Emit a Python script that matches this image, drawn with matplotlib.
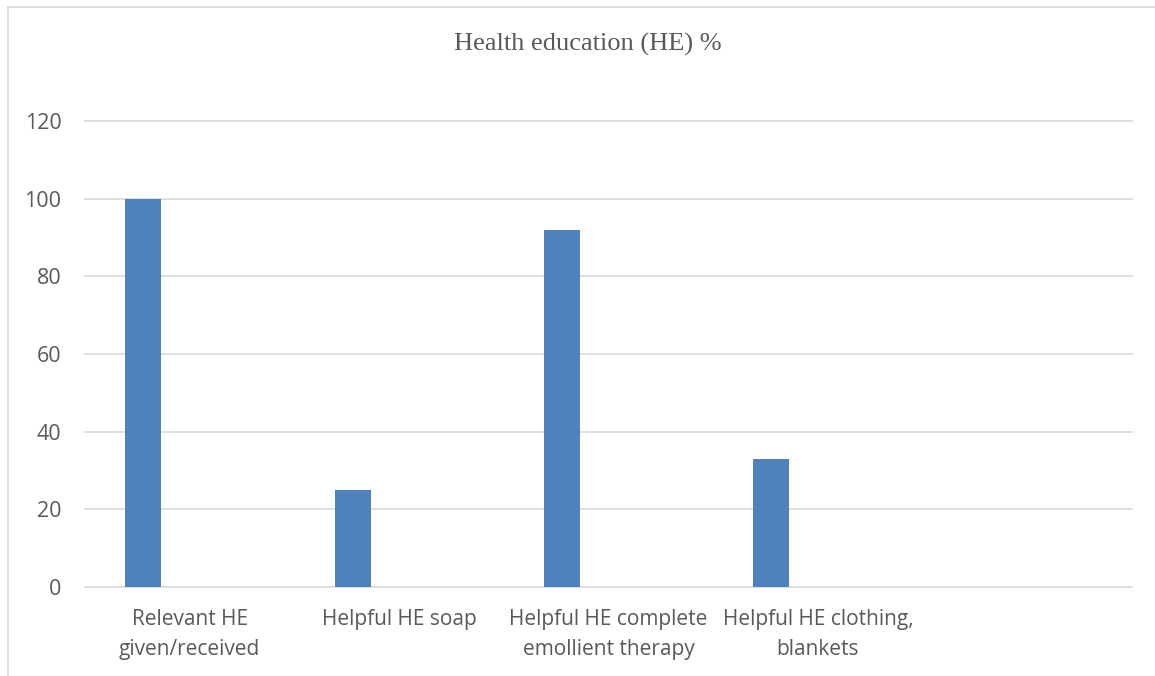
import matplotlib
matplotlib.use("Agg")
import matplotlib.pyplot as plt
from matplotlib.lines import Line2D
import numpy as np

categories = ["Relevant HE\ngiven/received", "Helpful HE soap",
              "Helpful HE complete\nemollient therapy", "Helpful HE clothing,\nblankets", ""]
values = [100, 25, 92, 33]
yticks = [0, 20, 40, 60, 80, 100, 120]
title = "Health education (HE) %"

W, H = 1155, 676
fig = plt.figure(figsize=(W / 100, H / 100), dpi=100)
fig.patch.set_facecolor("white")

# outer chart frame (top and left edges visible)
fig.add_artist(Line2D([8 / W, 1.0], [1 - 7 / H, 1 - 7 / H], transform=fig.transFigure,
                      color="#D9D9D9", lw=1.2))
fig.add_artist(Line2D([8 / W, 8 / W], [0, 1 - 7 / H], transform=fig.transFigure,
                      color="#D9D9D9", lw=1.2))

left, right = 85 / W, 1132 / W
bottom, top = 1 - 587 / H, 1 - 121 / H
ax = fig.add_axes([left, bottom, right - left, top - bottom])

x = np.arange(len(categories))
ax.bar(x[:len(values)] - 0.222, values, width=0.172, color="#4F81BD", zorder=3)

ax.set_xlim(-0.5, len(categories) - 0.5)
ax.set_ylim(0, 120)
ax.set_yticks(yticks)
ax.set_yticklabels([str(v) for v in yticks])
ax.set_xticks(x)
ax.set_xticklabels(categories)
for s in ax.spines.values():
    s.set_visible(False)
ax.yaxis.grid(True, color="#D9D9D9", lw=1.2, zorder=0)
for gl in ax.get_ygridlines():
    gl.set_clip_on(False)
ax.tick_params(axis="both", length=0, colors="#595959")
ax.tick_params(axis="y", pad=17, labelsize=15.5)
ax.tick_params(axis="x", pad=16, labelsize=15)
for lab in ax.get_xticklabels() + ax.get_yticklabels():
    lab.set_fontfamily("Open Sans")
    lab.set_color("#595959")
for lab in ax.get_xticklabels():
    lab.set_linespacing(1.55)

fig.text(588 / W, 1 - 44 / H, title, ha="center", va="center",
         fontfamily="Liberation Serif", fontsize=19, color="#595959")

fig.savefig("out.png", dpi=100, facecolor="white")
